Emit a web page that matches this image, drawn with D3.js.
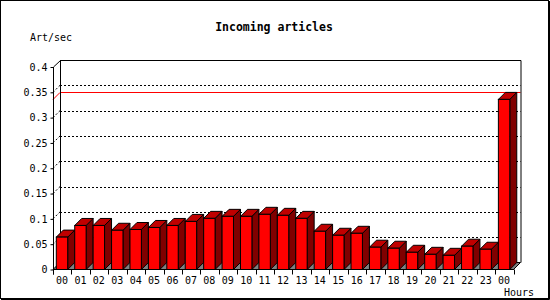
<!DOCTYPE html>
<html>
<head>
<meta charset="utf-8">
<script src="https://cdn.jsdelivr.net/npm/d3@7"></script>
<style>
  html, body { margin: 0; padding: 0; background: #fff; }
  svg { display: block; }
  text { font-family: "DejaVu Sans Mono", "Liberation Mono", monospace; fill: #000; }
</style>
</head>
<body>
<script>
// ---- data ----
const hours = ["00","01","02","03","04","05","06","07","08","09","10","11",
               "12","13","14","15","16","17","18","19","20","21","22","23","00"];
const articles = [0.064, 0.087, 0.087, 0.0775, 0.079, 0.083, 0.087, 0.095, 0.101, 0.105,
                  0.105, 0.109, 0.107, 0.101, 0.0755, 0.0676, 0.0715, 0.044, 0.042, 0.034,
                  0.030, 0.028, 0.046, 0.040, 0.336];
const yTicks = [0, 0.05, 0.1, 0.15, 0.2, 0.25, 0.3, 0.35, 0.4];
const yTickLabels = ["0","0.05","0.1","0.15","0.2","0.25","0.3","0.35","0.4"];
const gridValues = [0.05, 0.1, 0.15, 0.2, 0.25, 0.3, 0.35];
const title = "Incoming articles";
const yTitle = "Art/sec";
const xTitle = "Hours";

// ---- layout ----
const W = 550, H = 300;
const left = 53, right = 513.5, y0px = 269.5, ytop = 67;
const dx = 7, dy = 7;
const barOff = 3.3, barW = 11.4;

const svg = d3.select("body").append("svg").attr("width", W).attr("height", H);

const idx = d3.range(hours.length);
const x = d3.scaleBand().domain(idx).range([left, right]);
const y = d3.scaleLinear().domain([0, 0.4]).range([y0px, ytop]);

// outer frame
svg.append("rect").attr("x", 0.5).attr("y", 0.5).attr("width", 548).attr("height", 298)
  .attr("fill", "#fff").attr("stroke", "#000");
svg.append("path").attr("d", `M549.5,1V299.5H1`).attr("fill", "none").attr("stroke", "#000");

// title texts
svg.append("text").attr("x", 274).attr("y", 30.5).attr("text-anchor", "middle")
  .style("font-size", "11.5px").style("font-weight", "bold").text(title);
svg.append("text").attr("x", 30).attr("y", 40.5).style("font-size", "10px").text(yTitle);
svg.append("text").attr("x", 504).attr("y", 296).style("font-size", "10px").text(xTitle);

const backL = left + dx, backR = right + dx;
const g = svg.append("g");

// dotted gridlines on back wall and left side wall
gridValues.forEach(v => {
  g.append("line").attr("x1", backL).attr("x2", backR)
    .attr("y1", Math.round(y(v) - dy) + 0.5).attr("y2", Math.round(y(v) - dy) + 0.5)
    .attr("stroke", "#000").attr("stroke-dasharray", "2,2");
  g.append("line").attr("x1", left).attr("y1", y(v)).attr("x2", backL).attr("y2", y(v) - dy)
    .attr("stroke", "#000").attr("stroke-dasharray", "2,2");
});

// max line (red)
const maxV = d3.max(articles);
const ym = Math.round(y(maxV)) + 0.5;
g.append("path").attr("d", `M${left},${ym}L${backL},${ym - dy}H${backR}`)
  .attr("fill", "none").attr("stroke", "#ff0000");

// back wall edges
g.append("path")
  .attr("d", `M${left + 0.5},${ytop}L${backL + 0.5},${ytop - dy + 0.5}H${backR + 0.5}V${y0px - dy}`)
  .attr("fill", "none").attr("stroke", "#000");
g.append("line").attr("x1", backL + 0.5).attr("x2", backL + 0.5)
  .attr("y1", ytop - dy).attr("y2", y0px - dy).attr("stroke", "#000");

// floor
g.append("path")
  .attr("d", `M${left},${y0px}H${right}L${backR},${y0px - dy}H${backL}Z`)
  .attr("fill", "#808080").attr("stroke", "#000");

// bars
const bars = g.selectAll("g.bar").data(articles).enter().append("g").attr("class", "bar");
bars.each(function(v, i) {
  const b = d3.select(this);
  const xl = x(i) + barOff, xr = xl + barW;
  const yt = y(v);
  // side face
  b.append("path")
    .attr("d", `M${xr},${yt}L${xr + dx},${yt - dy}V${y0px - dy}L${xr},${y0px}Z`)
    .attr("fill", "#800000").attr("stroke", "#000");
  // top face
  b.append("path")
    .attr("d", `M${xl},${yt}L${xl + dx},${yt - dy}H${xr + dx}L${xr},${yt}Z`)
    .attr("fill", "#c00000").attr("stroke", "#000");
  // front face
  b.append("rect").attr("x", xl).attr("y", yt).attr("width", barW).attr("height", y0px - yt)
    .attr("fill", "#ff0000").attr("stroke", "#000");
});

// front y axis
const yAxis = d3.axisLeft(y).tickValues(yTicks).tickSize(3).tickPadding(3)
  .tickFormat((d, i) => yTickLabels[i]);
const ya = svg.append("g").attr("transform", `translate(${left + 0.5},0)`).call(yAxis);
ya.select(".domain").remove();
ya.selectAll("text").style("font-size", "10px").style("font-family", "DejaVu Sans Mono");
svg.append("line").attr("x1", left + 0.5).attr("x2", left + 0.5)
  .attr("y1", ytop).attr("y2", y0px + 5).attr("stroke", "#000");

// front x axis
svg.append("line").attr("x1", left).attr("x2", right + 0.5)
  .attr("y1", y0px).attr("y2", y0px).attr("stroke", "#000");
idx.concat([hours.length]).forEach(i => {
  const xt = (i < hours.length ? x(i) : right);
  svg.append("line").attr("x1", Math.round(xt) + 0.5).attr("x2", Math.round(xt) + 0.5)
    .attr("y1", y0px).attr("y2", y0px + 5).attr("stroke", "#000");
});
svg.append("g").selectAll("text").data(hours).enter().append("text")
  .attr("x", (d, i) => x(i) + barOff + barW / 2)
  .attr("y", 283.5)
  .attr("text-anchor", "middle")
  .style("font-size", "10px")
  .text(d => d);
</script>
</body>
</html>
